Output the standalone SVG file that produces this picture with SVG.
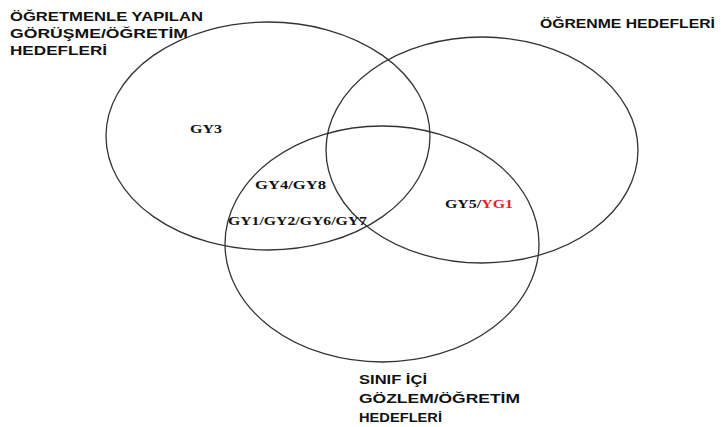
<svg xmlns="http://www.w3.org/2000/svg" width="721" height="427" viewBox="0 0 721 427">
<style>
.c{fill:none;stroke:#333;stroke-width:1.3}
.h{font-family:"Liberation Sans",Arial,sans-serif;font-weight:bold;font-size:13px;fill:#111}
.g{font-family:"Liberation Serif","Times New Roman",serif;font-weight:bold;font-size:13px;fill:#111}
.r{fill:#e8202a}
</style>
<rect width="721" height="427" fill="#fff"/>
<g id="set-gorusme">
<ellipse class="c" cx="268" cy="136" rx="162" ry="114"/>
<text class="h" x="10" y="21" textLength="193" lengthAdjust="spacingAndGlyphs">ÖĞRETMENLE YAPILAN</text>
<text class="h" x="10" y="38" textLength="178" lengthAdjust="spacingAndGlyphs">GÖRÜŞME/ÖĞRETİM</text>
<text class="h" x="10" y="55" textLength="97" lengthAdjust="spacingAndGlyphs">HEDEFLERİ</text>
</g>
<g id="set-ogrenme">
<ellipse class="c" cx="482" cy="150" rx="156" ry="113"/>
<text class="h" x="540" y="28" textLength="175" lengthAdjust="spacingAndGlyphs">ÖĞRENME HEDEFLERİ</text>
</g>
<g id="set-gozlem">
<ellipse class="c" cx="382" cy="244" rx="157" ry="118"/>
<text class="h" x="359" y="384" textLength="68" lengthAdjust="spacingAndGlyphs">SINIF İÇİ</text>
<text class="h" x="359" y="403" textLength="161" lengthAdjust="spacingAndGlyphs">GÖZLEM/ÖĞRETİM</text>
<text class="h" x="359" y="422" textLength="83" lengthAdjust="spacingAndGlyphs">HEDEFLERİ</text>
</g>
<g id="labels">
<text class="g" x="190" y="133" textLength="32" lengthAdjust="spacingAndGlyphs">GY3</text>
<text class="g" x="255" y="189" textLength="71" lengthAdjust="spacingAndGlyphs">GY4/GY8</text>
<text class="g" x="228" y="225" textLength="139" lengthAdjust="spacingAndGlyphs">GY1/GY2/GY6/GY7</text>
<text class="g" x="445" y="208" textLength="68" lengthAdjust="spacingAndGlyphs">GY5/<tspan class="r">YG1</tspan></text>
</g>
</svg>
